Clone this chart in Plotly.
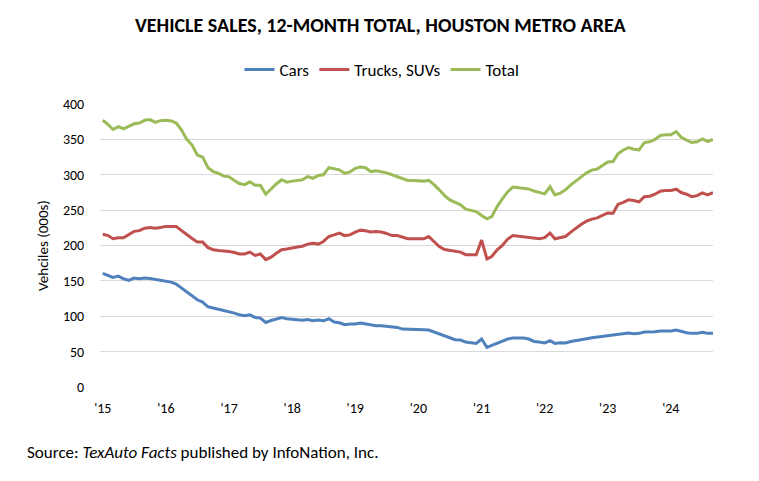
import pandas as pd
import plotly.graph_objects as go

# Monthly, Jan 2015 - Sep 2024 (117 months)
months = pd.date_range("2015-01-01", periods=117, freq="MS")

cars = [160.5, 157, 155, 156.7, 153, 150.6, 154, 153, 154, 153.5, 152, 151,
        150, 148.3, 145.5, 140, 134, 129.4, 123.3, 120, 113.4, 111.6, 110, 108.7,
        106.8, 104.5, 102, 100.7, 102, 98.3, 97.4, 91.2, 94, 96.5, 98.3, 96.5,
        95.5, 95, 94.3, 95.3, 93.6, 94.6, 93.6, 96.5, 91.8, 90.8, 88, 89,
        89, 90.4, 89, 88, 86.6, 86.6, 86, 84.7, 84.2, 81.9, 81.9, 81.9,
        81.9, 81, 80.5, 77.7, 74.9, 71.5, 69.2, 66.8, 66.4, 63.5, 62.6, 61.6,
        67.8, 56, 58.8, 61.6, 64.4, 67.8, 69.2, 69.2, 69.2, 67.8, 64.4, 63.5,
        62.3, 65.4, 61.6, 62.6, 62.1, 64.4, 65.4, 67.3, 68.2, 69.6, 70.6, 71,
        72.5, 73.4, 74.9, 75.3, 76.3, 75.3, 75.8, 77.7, 77.7, 78.1, 79.1, 79.1,
        79.1, 80.5, 78.6, 76.7, 75.8, 75.8, 77.2, 75.8, 75.8]

trucks = [216, 214, 209.5, 211, 211, 216, 220, 221, 224.5, 225.5, 224.5, 225.5,
          227, 227, 227, 221, 215, 210, 205, 205, 197, 194, 193, 192.7,
          191.5, 190, 188, 188, 190.7, 186, 188, 180, 183.6, 189, 194, 195,
          197, 198, 199, 202, 203, 202, 205.7, 212.7, 215, 217.5, 214, 215,
          219, 221.7, 220.8, 219, 219.8, 219, 217, 214, 214, 212, 209.5, 209.5,
          209.5, 209.5, 212.7, 205.7, 198.6, 194.4, 193, 191.5, 190.7, 187, 187, 187,
          207.6, 181, 184.5, 194, 200, 209, 214, 213, 212.3, 211.3, 209.5, 209.5,
          211, 217.5, 209.5, 211, 212.7, 219, 224.5, 230, 234.4, 237.3, 239, 242,
          246, 245.7, 258, 261, 264.5, 263.6, 261.7, 269, 269.7, 272.5, 276.7, 277.7,
          277.7, 279.6, 274.9, 272.5, 269, 270.5, 274.4, 271.6, 274.9]

total = [377, 371, 364, 368, 365, 368, 372, 373, 377, 378, 374, 376.5,
         377, 376, 373, 363, 350, 342, 328, 325, 310, 304.5, 302, 298,
         297, 292, 287.5, 286, 290, 285, 285, 272.5, 280, 287, 293, 289.5,
         291, 291.5, 293, 297.5, 295, 299, 300, 310, 308, 307, 302, 304,
         309, 311, 310, 304.5, 305.5, 304.5, 302.7, 300, 297.5, 295, 292, 292,
         291.5, 291, 292, 286, 278.7, 270.6, 264.5, 260.7, 257.5, 251.4, 250, 248,
         242.4, 237.7, 241, 255, 266, 276, 282.5, 282, 281, 280, 277, 275.4,
         273, 283, 271.6, 274, 278.7, 285.7, 291.8, 297, 302.7, 306.5, 308, 313,
         318, 318.6, 329.5, 335, 338.4, 336, 335, 345.5, 346.5, 350, 355.4, 356.4,
         356.4, 361, 353, 349, 345.5, 346.5, 350.7, 347, 350]

year_ticks = ["2015-01-01", "2016-01-01", "2017-01-01", "2018-01-01", "2019-01-01",
              "2020-01-01", "2021-01-01", "2022-01-01", "2023-01-01", "2024-01-01"]
year_labels = ["'15", "'16", "'17", "'18", "'19", "'20", "'21", "'22", "'23", "'24"]

FONT = "Carlito, 'Liberation Sans Narrow', 'Open Sans', sans-serif"

W, H = 759, 481
L, R, T, B = 100, 46, 104, 94
PW, PH = W - L - R, H - T - B

fig = go.Figure()
fig.add_trace(go.Scatter(x=months, y=cars, name="Cars", mode="lines",
                         line=dict(color="#4F81BD", width=3)))
fig.add_trace(go.Scatter(x=months, y=trucks, name="Trucks, SUVs", mode="lines",
                         line=dict(color="#C0504D", width=3)))
fig.add_trace(go.Scatter(x=months, y=total, name="Total", mode="lines",
                         line=dict(color="#9BBB59", width=3)))

fig.update_layout(
    width=W, height=H,
    paper_bgcolor="white", plot_bgcolor="white",
    margin=dict(l=L, r=R, t=T, b=B, autoexpand=False),
    font=dict(family=FONT, size=13, color="#000000"),
    showlegend=True,
    legend=dict(orientation="h", x=(382 - L) / PW, xanchor="center", xref="paper",
                y=1 - 70 / H, yref="container", yanchor="middle",
                font=dict(size=17, family=FONT, color="#000000"),
                itemwidth=30),
    annotations=[
        dict(text="<b>VEHICLE SALES, 12-MONTH TOTAL, HOUSTON METRO AREA</b>",
             xref="paper", yref="paper", x=(380 - L) / PW, y=1 + (T - 25) / PH,
             xanchor="center", yanchor="middle", showarrow=False,
             font=dict(size=20, family=FONT, color="#000000")),
        dict(text="Source: <i>TexAuto Facts</i> published by InfoNation, Inc.",
             xref="paper", yref="paper", x=(25 - L) / PW, y=-(452 - (T + PH)) / PH,
             xanchor="left", yanchor="middle", showarrow=False,
             font=dict(size=17, family=FONT, color="#000000")),
    ],
    xaxis=dict(type="date", range=["2014-12-16", "2024-09-01"],
               tickvals=year_ticks, ticktext=year_labels,
               showgrid=False, zeroline=False, showline=False,
               ticks="outside", ticklen=8, tickcolor="rgba(0,0,0,0)",
               tickfont=dict(size=14, color="#000000")),
    yaxis=dict(range=[0, 400], dtick=50, showgrid=True, gridcolor="#D9D9D9",
               gridwidth=1, zeroline=False, showline=False,
               ticks="outside", ticklen=12, tickcolor="rgba(0,0,0,0)",
               tickfont=dict(size=14, color="#000000"),
               title=dict(text="Vehciles (000s)", standoff=10,
                          font=dict(size=15, color="#000000"))),
)

fig.write_html("out.html",
               config={"displayModeBar": False},
               post_script="document.body.style.margin='0';document.body.style.padding='0';")
